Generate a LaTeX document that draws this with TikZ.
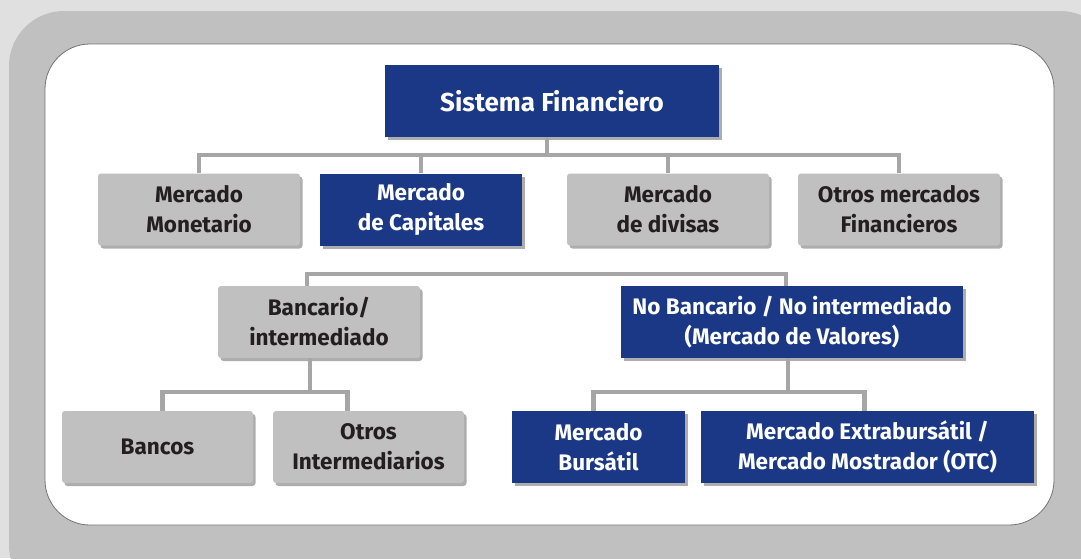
\documentclass[tikz,border=0pt]{standalone}
\usepackage{fontspec}
\setmainfont{Fira Sans}
\usetikzlibrary{shadows}
\definecolor{azul}{RGB}{26,56,133}
\definecolor{gris}{RGB}{192,192,192}
\definecolor{linea}{RGB}{166,166,166}
\definecolor{fondo}{RGB}{224,224,224}
\definecolor{tinta}{RGB}{35,31,32}
\tikzset{
  caja/.style={minimum height=72pt, inner sep=0pt, align=center,
    font=\bfseries\fontsize{22.5}{30}\selectfont,
    drop shadow={shadow xshift=2.5pt, shadow yshift=-3pt, opacity=0.4, fill=black!80}},
  cajagris/.style={caja, fill=gris, rounded corners=3pt, text=tinta},
  cajaazul/.style={caja, fill=azul, text=white},
  conn/.style={draw=linea, line width=4.5pt}
}
\begin{document}
\begin{tikzpicture}[x=1pt,y=-1pt]
	\useasboundingbox (0,0) rectangle (1081,558);
	\clip (0,0) rectangle (1081,558);
	% marco
	\fill [fondo] (0,0) rectangle (1081,558);
	\fill [gris,rounded corners=55pt] (9,11) rectangle (1115,600);
	\draw [fill=white,draw=black!55,line width=0.8pt,rounded corners=45pt] (45,44) rectangle (1054,525);
	% cajas
	\node [cajaazul,minimum width=334pt,font=\bfseries\fontsize{26}{32}\selectfont] (sis) at (552,101) {Sistema Financiero};
	\node [cajagris,minimum width=202pt] (mon) at (199,209.5) {Mercado\\Monetario};
	\node [cajaazul,minimum width=202pt] (cap) at (421,209.5) {Mercado\\de Capitales};
	\node [cajagris,minimum width=202pt] (div) at (668,209.5) {Mercado\\de divisas};
	\node [cajagris,minimum width=202pt] (otr) at (899,209.5) {Otros mercados\\Financieros};
	\node [cajagris,minimum width=202pt] (banc) at (319,322) {Bancario/\\intermediado};
	\node [cajaazul,minimum width=342pt] (nob) at (792,322) {No Bancario / No intermediado\\(Mercado de Valores)};
	\node [cajagris,minimum width=191pt] (bcs) at (157.5,447) {Bancos};
	\node [cajagris,minimum width=191pt] (oint) at (368.5,447) {Otros\\Intermediarios};
	\node [cajaazul,minimum width=173pt] (burs) at (598.5,447) {Mercado\\Bursátil};
	\node [cajaazul,minimum width=333pt] (ext) at (867.5,447) {Mercado Extrabursátil /\\Mercado Mostrador (OTC)};
	% conectores
	\draw [conn] ([xshift=-5pt]sis.south) -- ++(0,18) coordinate (b1);
	\draw [conn] (mon.north) |- (otr.north |- b1) -- (otr.north);
	\draw [conn] (cap.north) -- (cap.north |- b1);
	\draw [conn] (div.north) -- (div.north |- b1);
	\coordinate (b2) at (0,274);
	\coordinate (d1) at ([xshift=-12pt]banc.north);
	\coordinate (d2) at ([xshift=-6pt]nob.north);
	\draw [conn] (d1) |- (d2 |- b2) -- (d2);
	\draw [conn] ([xshift=-9pt]banc.south) -- ++(0,34) coordinate (b3);
	\coordinate (d3) at ([xshift=5pt]bcs.north);
	\coordinate (d4) at ([xshift=-21pt]oint.north);
	\draw [conn] (d3) |- (d4 |- b3) -- (d4);
	\draw [conn] ([xshift=-4pt]nob.south) -- ++(0,34) coordinate (b4);
	\coordinate (d5) at ([xshift=-5pt]burs.north);
	\coordinate (d6) at ([xshift=-3pt]ext.north);
	\draw [conn] (d5) |- (d6 |- b4) -- (d6);
\end{tikzpicture}
\end{document}
